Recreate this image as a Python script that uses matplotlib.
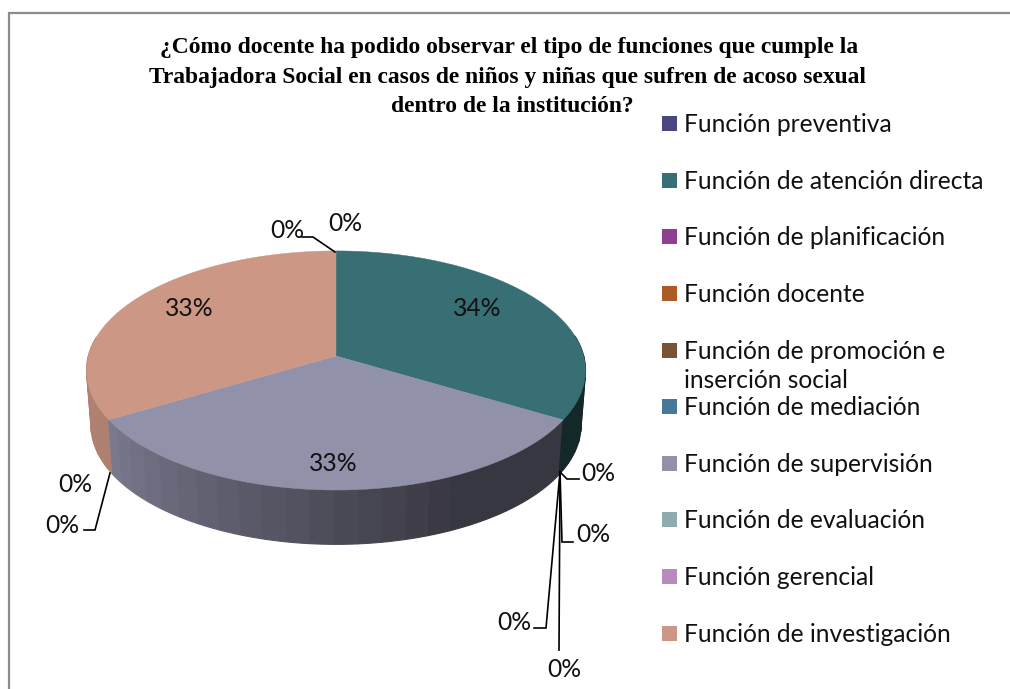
import numpy as np
import matplotlib
matplotlib.use("Agg")
import matplotlib.pyplot as plt
from matplotlib.patches import Rectangle

title_lines = ["¿Cómo docente ha podido observar el tipo de funciones que cumple la",
               "Trabajadora Social en casos de niños y niñas que sufren de acoso sexual",
               "dentro de la institución?"]
categories = ["Función preventiva", "Función de atención directa", "Función de planificación",
              "Función docente", "Función de promoción e\ninserción social", "Función de mediación",
              "Función de supervisión", "Función de evaluación", "Función gerencial",
              "Función de investigación"]
values = [0, 33.51, 0, 0, 0, 0, 33.0, 0, 0, 33.49]
colors = ["#4a477f", "#376f74", "#8e3f90", "#ac5a26", "#7a5235", "#47789b",
          "#9291aa", "#8eabae", "#b78cbd", "#cd9785"]

fig = plt.figure(figsize=(10.1, 6.89), dpi=100, facecolor="white")
ax = fig.add_axes([0, 0, 1, 1])
ax.set_xlim(0, 1010); ax.set_ylim(689, 0); ax.axis("off")
ax.plot([8.5, 8.5, 1010], [689, 12.5, 12.5], color="#8c8c8c", lw=1.6, solid_joinstyle="miter")

# perspective projection of the pie disc
CX, CY, KX, KY, PERSP, DEPTH, SHRINK = 336, 356, 247.7, 117.8, 0.121, 55, 0.982
def project(theta, r=1.0, bottom=False):
    u, v = r*np.sin(theta), -r*np.cos(theta)
    d = 1 - PERSP*v
    x, y = KX*u/d, KY*v/d
    if bottom:
        return CX + x*SHRINK, CY + y*0.995 + DEPTH
    return CX + x, CY + y

def shade(c, f):
    rgb = np.array(matplotlib.colors.to_rgb(c))
    return tuple(rgb*f)

vals = np.array(values, float)
fracs = vals/vals.sum()
edges = np.concatenate([[0], np.cumsum(fracs)])*2*np.pi
side_shades = {1: (0.36, 0.36), 6: (0.38, 0.85), 9: (0.85, 0.88)}
front_lo, front_hi = np.radians(82), np.radians(278)
# sides (front half only)
for i in [9, 1, 6]:
    a0, a1 = edges[i], edges[i+1]
    steps = np.arange(a0, a1 + 1e-6, np.radians(5.0))
    if steps[-1] < a1: steps = np.append(steps, a1)
    s0, s1 = side_shades[i]
    for k in range(len(steps)-1):
        if steps[k+1] < front_lo or steps[k] > front_hi:
            continue
        t = np.linspace(steps[k], steps[k+1], 5)
        xt, yt = project(t)
        xb, yb = project(t[::-1], bottom=True)
        f = s0 + (s1-s0)*np.clip((steps[k]-a0)/(a1-a0)*1.35-0.35 if i == 6 else (steps[k]-a0)/(a1-a0), 0, 1)
        col = shade(colors[i], f)
        ax.fill(np.r_[xt, xb], np.r_[yt, yb], fc=col, ec=col, lw=0.8, zorder=2+k*0.001)
# tops
for i, c in enumerate(colors):
    if vals[i] == 0: continue
    t = np.linspace(edges[i], edges[i+1], 200)
    x, y = project(t)
    ax.fill(np.r_[CX, x], np.r_[CY, y], fc=c, ec=c, lw=0.3, zorder=3)

FONT = "Lato"
LBL = 17.7
# percentage labels of the non-zero slices
pct_pos = {1: (477, 308.5), 6: (333, 463.5), 9: (189, 308.5)}
for i, (px, py) in pct_pos.items():
    ax.text(px, py, f"{round(values[i])}%", ha="center", va="center", family=FONT, fontsize=LBL, color="#111111", zorder=5)
# zero labels with leaders
zero_labels = {0: (345, 223.5, None),
               2: (598, 473.5, [(560, 472), (567, 479), (579, 479)]),
               3: (593, 534.5, [(560, 472), (562, 542), (573, 542)]),
               4: (514, 622.5, [(560, 472), (546, 628), (534, 628)]),
               5: (564, 669.5, [(560, 472), (559, 650)]),
               7: (75, 484.5, None),
               8: (62, 525.5, [(110, 473), (95, 530), (84, 530)]),
               10: (287, 230.5, [(335, 252), (313, 237), (302, 237)])}
for key, (px, py, leader) in zero_labels.items():
    ax.text(px, py, f"{round(values[key % 10])}%", ha="center", va="center", family=FONT, fontsize=LBL, color="#111111", zorder=5)
    if leader:
        lx, ly = zip(*leader)
        ax.plot(lx, ly, color="black", lw=1.2, zorder=4, solid_joinstyle="miter")

# title
for line, xx, yy in zip(title_lines, [509, 507.5, 512], [48, 78, 106]):
    ax.text(xx, yy, line, ha="center", va="center", family="Liberation Serif",
            fontweight="bold", fontsize=16.9, color="black")

# legend
leg_y = [123, 180, 236, 293, 350, 406, 463, 519, 576, 633]
for name, c, yy in zip(categories, colors, leg_y):
    ax.add_patch(Rectangle((662, yy-7.5), 15, 15, fc=c, ec="none", zorder=4))
    first = name.split("\n")
    ax.text(684, yy+1.5, first[0], ha="left", va="center", family=FONT, fontsize=LBL, color="#111111")
    if len(first) > 1:
        ax.text(684, yy+31, first[1], ha="left", va="center", family=FONT, fontsize=LBL, color="#111111")

fig.savefig("out.png", dpi=100)
